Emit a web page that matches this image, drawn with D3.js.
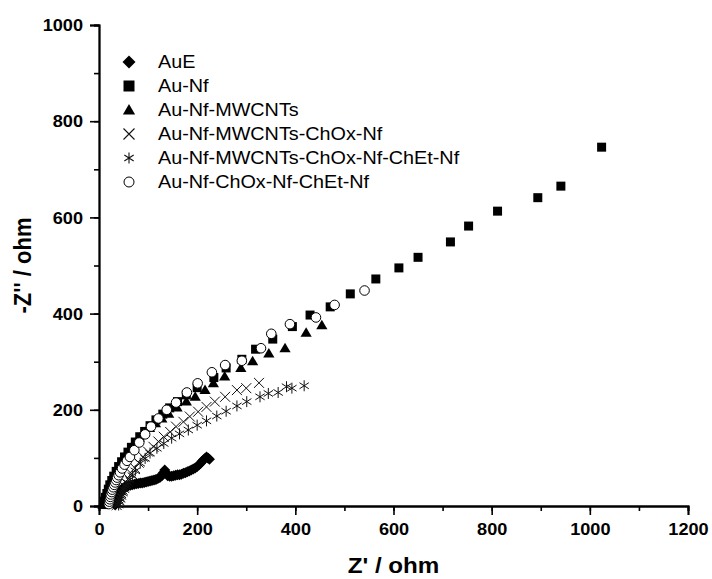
<!DOCTYPE html>
<html>
<head>
<meta charset="utf-8">
<script src="https://cdn.jsdelivr.net/npm/d3@7"></script>
<style>
  html, body { margin: 0; padding: 0; background: #fff; }
  svg { display: block; }
  text { font-family: "Liberation Sans", Arial, sans-serif; fill: #000; }
</style>
</head>
<body>
<svg id="chart" width="712" height="579"></svg>
<script>
// Nyquist plot data: [Z' (ohm), -Z'' (ohm)]
const seriesNames = [
  "AuE",
  "Au-Nf",
  "Au-Nf-MWCNTs",
  "Au-Nf-MWCNTs-ChOx-Nf",
  "Au-Nf-MWCNTs-ChOx-Nf-ChEt-Nf",
  "Au-Nf-ChOx-Nf-ChEt-Nf"
];
const seriesSymbols = ["diamond", "square", "triangle", "cross", "star", "circle"];

const auE = [
  [33,2],[34,6],[35,10],[36,14],[37,18],[38,22],[40,26],[42,30],[44,33],[47,36],
  [50,38],[53,39],[56,40],[60,42],[64,43],[68,44],[72,45],[76,46],[80,47],[84,48],
  [88,48],[92,49],[96,50],[100,51],[104,52],[108,53],[112,54],[116,55],[120,57],
  [124,59],[128,63],[131,69],[134,75],[137,68],[140,63],[144,62],[148,62],[152,63],
  [156,64],[160,65],[164,65],[168,66],[172,68],[176,69],[180,71],[184,73],[188,75],
  [192,77],[196,79],[200,82],[204,86],[207,89],[210,93],[213,96],[216,99],[219,102],
  [222,100],[225,97]
];
const auNf = [
  [9,3],[11,10],[13,18],[16,26],[19,35],[22,44],[26,53],[30,62],[35,72],[40,82],
  [46,92],[52,102],[59,112],[66,122],[74,133],[83,144],[93,155],[104,167],[116,179],
  [130,191],[144,204],[160,217],[178,231],[200,246],[234,267],[259,287],[291,305],
  [319,326],[354,347],[394,373],[430,397],[471,414],[512,441],[564,472],[611,495],
  [650,517],[716,549],[753,582],[812,613],[894,641],[941,665],[1024,746]
];
const auNfMwcnt = [
  [8,2],[10,9],[12,17],[15,25],[18,34],[21,43],[25,52],[29,61],[34,70],[39,80],
  [45,90],[51,100],[58,110],[65,120],[73,131],[82,142],[92,152],[103,162],[115,172],
  [128,182],[142,192],[159,205],[178,217],[196,227],[216,241],[233,255],[256,269],
  [289,287],[313,301],[346,317],[379,328],[422,360],[454,376]
];
const auNfMwcntChox = [
  [36,2],[38,8],[40,14],[42,20],[45,27],[48,34],[51,41],[55,48],[60,57],[66,67],
  [73,79],[81,90],[90,102],[100,113],[111,123],[121,134],[132,144],[145,154],[157,165],
  [172,175],[185,186],[202,196],[219,206],[236,217],[257,227],[281,241],[300,245],[326,256]
];
const auNfMwcntChoxChet = [
  [40,2],[42,8],[44,14],[46,20],[49,27],[52,34],[55,41],[59,48],[63,55],[68,63],
  [74,73],[84,89],[94,99],[104,110],[118,120],[132,130],[148,141],[164,150],[182,158],
  [200,168],[219,177],[240,187],[259,197],[281,208],[301,217],[328,227],[345,234],
  [365,236],[382,248],[393,245],[418,250]
];
const auNfChoxChet = [
  [20,4],[21,9],[22,14],[23,19],[24,24],[26,29],[27,34],[29,39],[31,44],[33,49],
  [35,54],[37,59],[40,64],[43,70],[47,78],[52,86],[57,94],[63,102],[72,116],[82,132],
  [94,149],[106,165],[121,182],[138,200],[157,215],[179,236],[201,255],[230,278],
  [257,293],[291,302],[330,328],[351,358],[389,378],[442,392],[480,418],[541,448]
];
const allSeries = [auE, auNf, auNfMwcnt, auNfMwcntChox, auNfMwcntChoxChet, auNfChoxChet];

const xTicks = [0, 200, 400, 600, 800, 1000, 1200];
const yTicks = [0, 200, 400, 600, 800, 1000];

const svg = d3.select("#chart");
const x = d3.scaleLinear().domain([0, 1200]).range([99, 688]);
const y = d3.scaleLinear().domain([0, 1000]).range([506, 25]);
const stretch = 1.1; // horizontal text stretch

// marker path generators, centred at 0,0
function symbolPath(kind, s) {
  const h = s / 2;
  switch (kind) {
    case "diamond": return `M0,${-h-1}L${h+1},0L0,${h+1}L${-h-1},0Z`;
    case "square": return `M${-h},${-h}H${h}V${h}H${-h}Z`;
    case "triangle": return `M0,${-h-0.5}L${h+0.6},${h*0.8}L${-h-0.6},${h*0.8}Z`;
    case "cross": return `M${-h},${-h}L${h},${h}M${-h},${h}L${h},${-h}`;
    case "star": {
      const a = h * 0.85, b = h * 0.55;
      return `M0,${-h}V${h}M${-a},${-b}L${a},${b}M${-a},${b}L${a},${-b}`;
    }
    case "circle": return d3.arc()({innerRadius: 0, outerRadius: h, startAngle: 0, endAngle: 2 * Math.PI});
  }
}
function styleSymbol(sel, kind) {
  if (kind === "cross" || kind === "star") {
    sel.attr("fill", "none").attr("stroke", "#111").attr("stroke-width", 1);
  } else if (kind === "circle") {
    sel.attr("fill", "#fff").attr("stroke", "#000").attr("stroke-width", 1);
  } else {
    sel.attr("fill", "#000").attr("stroke", "none");
  }
}
const markerSize = {diamond: 9, square: 9, triangle: 10, cross: 10, star: 11, circle: 9.6};

// axes
const gx = svg.append("g").attr("transform", "translate(0,506)");
gx.call(d3.axisBottom(x).tickValues(d3.range(0, 1201, 100)).tickSize(5).tickFormat(""));
gx.call(g => g.append("g").call(d3.axisBottom(x).tickValues(xTicks).tickSize(9).tickFormat(d3.format("d"))));
const gy = svg.append("g").attr("transform", "translate(99,0)");
gy.call(d3.axisLeft(y).tickValues(d3.range(0, 1001, 100)).tickSize(5).tickFormat(""));
gy.call(g => g.append("g").call(d3.axisLeft(y).tickValues(yTicks).tickSize(9).tickFormat(d3.format("d"))));
svg.selectAll(".domain").attr("stroke", "#000").attr("stroke-width", 1.8);
svg.selectAll(".tick line").attr("stroke", "#000").attr("stroke-width", 1.6);
gx.selectAll("text").attr("font-size", 16.5).attr("font-weight", "bold")
  .attr("font-family", "Liberation Sans, Arial, sans-serif").attr("y", 0).attr("dy", 0)
  .attr("transform", `translate(0,29) scale(${stretch},1)`);
gy.selectAll("text").attr("font-size", 16.5).attr("font-weight", "bold")
  .attr("font-family", "Liberation Sans, Arial, sans-serif").attr("x", 0).attr("dy", "0.35em")
  .attr("transform", `translate(-16,0) scale(${stretch},1)`);

// axis titles
svg.append("text").text("Z' / ohm")
  .attr("font-size", 22).attr("font-weight", "bold").attr("text-anchor", "middle")
  .attr("transform", `translate(${(x(0) + x(1200)) / 2},573) scale(${stretch},1)`);
svg.append("text").text("-Z'' / ohm")
  .attr("font-size", 22).attr("font-weight", "bold").attr("text-anchor", "middle")
  .attr("transform", `translate(31,${(y(0) + y(1000)) / 2}) rotate(-90) scale(1,${stretch})`);

// data markers
const plot = svg.append("g");
allSeries.forEach((pts, i) => {
  const kind = seriesSymbols[i];
  const sel = plot.append("g").selectAll("path").data(pts).join("path")
    .attr("d", symbolPath(kind, markerSize[kind]))
    .attr("transform", d => `translate(${x(d[0])},${y(d[1])})`);
  styleSymbol(sel, kind);
});

// legend
const legend = svg.append("g");
seriesNames.forEach((name, i) => {
  const cy = 62 + i * 24;
  const kind = seriesSymbols[i];
  const m = legend.append("path")
    .attr("d", symbolPath(kind, kind === "circle" ? 10 : 11))
    .attr("transform", `translate(129,${cy})`);
  styleSymbol(m, kind);
  if (kind === "cross" || kind === "star") m.attr("stroke-width", 1.1);
  legend.append("text").text(name)
    .attr("font-size", 18).attr("dy", "0.35em")
    .attr("transform", `translate(158,${cy}) scale(${stretch},1)`);
});
</script>
</body>
</html>
